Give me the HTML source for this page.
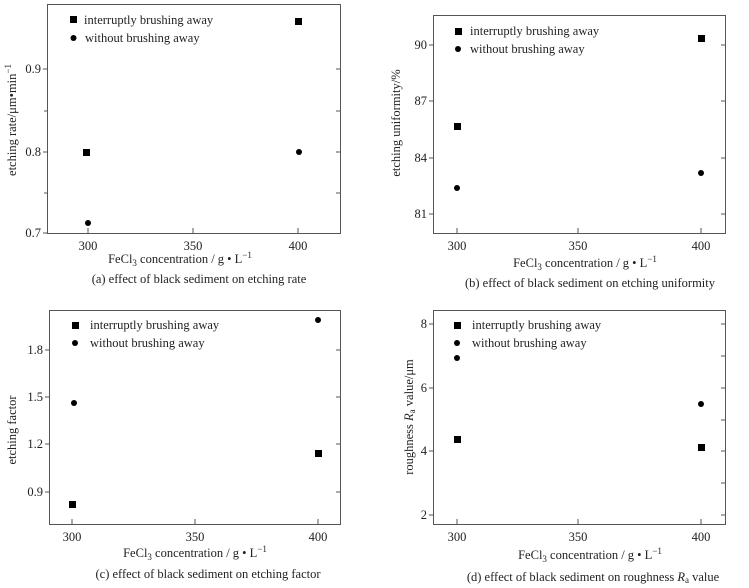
<!DOCTYPE html>
<html><head><meta charset="utf-8"><style>
html,body{margin:0;padding:0;background:#fff}
svg{display:block}
text{font-family:"Liberation Serif",serif;fill:#222}
</style></head><body>
<svg width="749" height="588" viewBox="0 0 749 588" xmlns="http://www.w3.org/2000/svg">
<g stroke="#555" stroke-width="1" fill="none">
<rect x="47.5" y="4.5" width="293" height="229"/>
<rect x="433.5" y="15.5" width="292" height="218"/>
<rect x="49.5" y="310.5" width="291" height="214"/>
<rect x="433.5" y="310.5" width="292" height="214"/>
<!-- a ticks -->
<path d="M43 69H47M43 152H47M43 233H47M88 233V228M193 233V228M298 233V228M336 69H340M336 152H340M47 111H44M47 193H44M336 111H340M336 193H340"/>
<!-- b ticks -->
<path d="M429 45H433M429 101H433M429 158H433M429 214H433M457 233V228M578 233V228M701 233V228M721 45H725M721 101H725M721 158H725M721 214H725"/>
<!-- c ticks -->
<path d="M45 350H49M45 397H49M45 444H49M45 492H49M72 524V519M195 524V519M318 524V519M336 350H340M336 397H340M336 444H340M336 492H340"/>
<!-- d ticks -->
<path d="M429 324H433M429 388H433M429 451H433M429 515H433M457 524V519M578 524V519M701 524V519M721 324H725M721 388H725M721 451H725M721 515H725M721 356H725M721 420H725M721 483H725"/>
</g>
<g fill="#000">
<!-- a -->
<rect x="70" y="16" width="7" height="7"/><circle cx="73.5" cy="38" r="3"/>
<rect x="83" y="149" width="7" height="7"/><rect x="295" y="18" width="7" height="7"/>
<circle cx="88" cy="223" r="3"/><circle cx="299" cy="152" r="3"/>
<!-- b -->
<rect x="455" y="28" width="7" height="7"/><circle cx="458" cy="49" r="3"/>
<rect x="454" y="123" width="7" height="7"/><rect x="698" y="35" width="7" height="7"/>
<circle cx="457" cy="188" r="3"/><circle cx="701" cy="173" r="3"/>
<!-- c -->
<rect x="72" y="322" width="7" height="7"/><circle cx="75" cy="343" r="3"/>
<rect x="69" y="501" width="7" height="7"/><rect x="315" y="450" width="7" height="7"/>
<circle cx="74" cy="403" r="3"/><circle cx="318" cy="320" r="3"/>
<!-- d -->
<rect x="454" y="322" width="7" height="7"/><circle cx="457" cy="343" r="3"/>
<rect x="454" y="436" width="7" height="7"/><rect x="698" y="444" width="7" height="7"/>
<circle cx="457" cy="358" r="3"/><circle cx="701" cy="404" r="3"/>
</g>
<g font-size="12.5">
<!-- a -->
<text x="84" y="24">interruptly brushing away</text>
<text x="85" y="42">without brushing away</text>
<g text-anchor="end"><text x="41" y="73">0.9</text><text x="41" y="156">0.8</text><text x="41" y="237">0.7</text></g>
<g text-anchor="middle"><text x="88" y="250">300</text><text x="193" y="250">350</text><text x="298" y="250">400</text>
<text x="180" y="263">FeCl<tspan font-size="9" dy="3">3</tspan><tspan dy="-3"> concentration / g • L</tspan><tspan font-size="9" dy="-5">−1</tspan></text>
<text x="199" y="283">(a) effect of black sediment on etching rate</text>
<text transform="translate(16,120) rotate(-90)">etching rate/μm•min<tspan font-size="9" dy="-5">−1</tspan></text></g>
<!-- b -->
<text x="470" y="35">interruptly brushing away</text>
<text x="470" y="53">without brushing away</text>
<g text-anchor="end"><text x="427" y="49">90</text><text x="427" y="105">87</text><text x="427" y="162">84</text><text x="427" y="218">81</text></g>
<g text-anchor="middle"><text x="457" y="250">300</text><text x="578" y="250">350</text><text x="701" y="250">400</text>
<text x="585" y="267">FeCl<tspan font-size="9" dy="3">3</tspan><tspan dy="-3"> concentration / g • L</tspan><tspan font-size="9" dy="-5">−1</tspan></text>
<text x="590" y="287">(b) effect of black sediment on etching uniformity</text>
<text transform="translate(400,123) rotate(-90)">etching uniformity/%</text></g>
<!-- c -->
<text x="90" y="329">interruptly brushing away</text>
<text x="90" y="347">without brushing away</text>
<g text-anchor="end"><text x="43" y="354">1.8</text><text x="43" y="401">1.5</text><text x="43" y="448">1.2</text><text x="43" y="496">0.9</text></g>
<g text-anchor="middle"><text x="72" y="541">300</text><text x="195" y="541">350</text><text x="318" y="541">400</text>
<text x="195" y="557">FeCl<tspan font-size="9" dy="3">3</tspan><tspan dy="-3"> concentration / g • L</tspan><tspan font-size="9" dy="-5">−1</tspan></text>
<text x="208" y="578">(c) effect of black sediment on etching factor</text>
<text transform="translate(16,430) rotate(-90)">etching factor</text></g>
<!-- d -->
<text x="472" y="329">interruptly brushing away</text>
<text x="472" y="347">without brushing away</text>
<g text-anchor="end"><text x="427" y="328">8</text><text x="427" y="392">6</text><text x="427" y="455">4</text><text x="427" y="519">2</text></g>
<g text-anchor="middle"><text x="457" y="541">300</text><text x="578" y="541">350</text><text x="701" y="541">400</text>
<text x="590" y="559">FeCl<tspan font-size="9" dy="3">3</tspan><tspan dy="-3"> concentration / g • L</tspan><tspan font-size="9" dy="-5">−1</tspan></text>
<text x="593" y="581">(d) effect of black sediment on roughness <tspan font-style="italic">R</tspan><tspan font-size="9" dy="2">a</tspan><tspan dy="-2"> value</tspan></text>
<text transform="translate(413,417) rotate(-90)">roughness <tspan font-style="italic">R</tspan><tspan font-size="9" dy="2">a</tspan><tspan dy="-2"> value/μm</tspan></text></g>
</g>
</svg>
</body></html>
